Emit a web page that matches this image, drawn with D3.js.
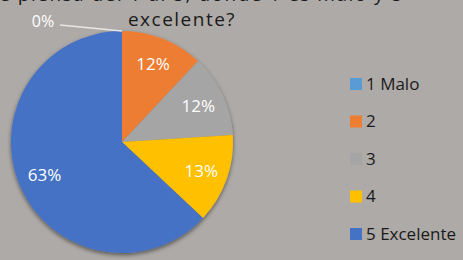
<!DOCTYPE html>
<html>
<head>
<meta charset="utf-8">
<script src="https://cdn.jsdelivr.net/npm/d3@7"></script>
<style>
  body { margin: 0; background: #aeaaa7; }
  svg { display: block; }
</style>
</head>
<body>
<svg id="chart" width="463" height="260"></svg>
<script>
var categories = ["1 Malo", "2", "3", "4", "5 Excelente"];
var values = [0, 12, 12, 13, 63];
var colorArray = ["#5b9bd5", "#ed7d31", "#a5a5a5", "#ffc000", "#4472c4"];

var svg = d3.select('#chart');
var color = d3.scaleOrdinal().domain(categories).range(colorArray);

var defs = svg.append('defs');
var shadow = defs.append('filter').attr('id', 'shadow').attr('x', '-20%').attr('y', '-20%').attr('width', '140%').attr('height', '140%');
shadow.append('feDropShadow').attr('dx', 0).attr('dy', 2).attr('stdDeviation', 2).attr('flood-color', '#000').attr('flood-opacity', 0.5);

// title (first line runs off the top edge, as in the source image)
svg.append('text')
    .attr('x', 182).attr('y', 1)
    .attr('text-anchor', 'middle')
    .attr('font-family', 'Open Sans, sans-serif')
    .attr('font-size', '19px')
    .attr('fill', '#1a1a1a')
    .attr('letter-spacing', '1.5px')
    .text('¿Qué piensa del 1 al 5, donde 1 es malo y 5');

svg.append('text')
    .attr('x', 182).attr('y', 26)
    .attr('text-anchor', 'middle')
    .attr('font-family', 'Open Sans, sans-serif')
    .attr('font-size', '19px')
    .attr('fill', '#1a1a1a')
    .attr('letter-spacing', '1.5px')
    .text('excelente?');

var cx = 122, cy = 142, r = 111;
var pie = d3.pie().sort(null).value(d => d.v);
var arcs = pie(categories.map((c, i) => ({ c: c, v: values[i] })));
var arc = d3.arc().innerRadius(0).outerRadius(r);

var g = svg.append('g').attr('transform', 'translate(' + cx + ',' + cy + ')');
g.append('g').attr('filter', 'url(#shadow)')
    .selectAll('path')
    .data(arcs)
    .enter()
    .append('path')
    .attr('d', arc)
    .style('fill', d => color(d.data.c));

// data labels
var labelArc = d3.arc().innerRadius(r * 0.76).outerRadius(r * 0.76);
arcs.forEach(function (d) {
    var p = labelArc.centroid(d);
    if (d.data.v === 0) return;
    svg.append('text')
        .attr('x', cx + p[0]).attr('y', cy + p[1])
        .attr('text-anchor', 'middle')
        .attr('dy', '0.35em')
        .attr('font-family', 'Open Sans, sans-serif')
        .attr('font-size', '17px')
        .attr('fill', '#fff')
        .text(d.data.v + '%');
});

// 0% label with leader line
var zero = arcs[0];
var edge = d3.arc().innerRadius(r).outerRadius(r).centroid(zero);
svg.append('polyline')
    .attr('points', [[60, 25], [cx + edge[0], cy + edge[1]]].map(p => p.join(',')).join(' '))
    .attr('fill', 'none')
    .attr('stroke', '#e8e8e8')
    .attr('stroke-width', 1.5);
svg.append('text')
    .attr('x', 43).attr('y', 21)
    .attr('text-anchor', 'middle')
    .attr('dy', '0.35em')
    .attr('font-family', 'Open Sans, sans-serif')
    .attr('font-size', '16px')
    .attr('fill', '#fff')
    .text(zero.data.v + '%');

// legend
var legend = svg.append('g').attr('transform', 'translate(350,83)');
var items = legend.selectAll('.legend-item')
    .data(categories)
    .enter()
    .append('g')
    .attr('class', 'legend-item')
    .attr('transform', (d, i) => 'translate(0,' + (i * 37.5) + ')');

items.append('rect')
    .attr('x', 0).attr('y', -5)
    .attr('width', 12).attr('height', 12)
    .style('fill', d => color(d));

items.append('text')
    .attr('x', 16).attr('y', 1)
    .attr('dy', '0.35em')
    .attr('font-family', 'Open Sans, sans-serif')
    .attr('font-size', '17px')
    .attr('fill', '#1a1a1a')
    .text(d => d);
</script>
</body>
</html>
